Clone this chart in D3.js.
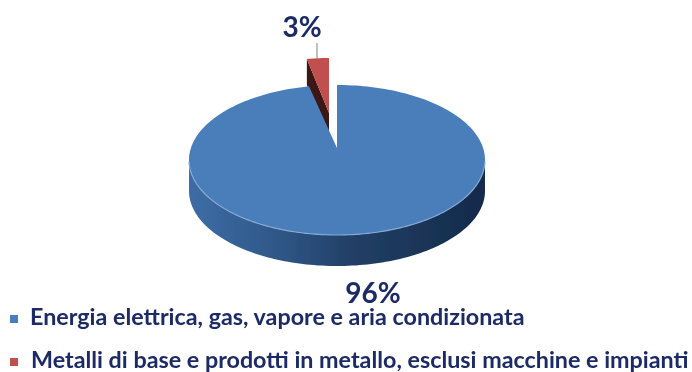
<!DOCTYPE html>
<html><head><meta charset="utf-8">
<script src="https://cdn.jsdelivr.net/npm/d3@7"></script>
<style>html,body{margin:0;padding:0;background:#fff}svg{display:block}</style>
</head><body><svg id="c" width="692" height="372"></svg>
<script>
const categories = ["Energia elettrica, gas, vapore e aria condizionata","Metalli di base e prodotti in metallo, esclusi macchine e impianti"];
const values = [96, 3];
const labels = ["96%", "3%"];
const colors = ["#4a7ebb", "#c0504d"];

const svg = d3.select("#c");
const defs = svg.append("defs");
defs.append("filter").attr("id","soft").append("feGaussianBlur").attr("stdDeviation",0.45);
const wall = defs.append("linearGradient").attr("id","wall");
[[0,"#3d6da6"],[0.3,"#2f5787"],[0.55,"#223f66"],[0.8,"#1a3456"],[1,"#15294a"]].forEach(([o,c])=>wall.append("stop").attr("offset",o).attr("stop-color",c));

const g = svg.append("g").attr("filter","url(#soft)");
const slices = d3.pie().sort(null).startAngle(0).endAngle(2*Math.PI)(values);
const pt = (cx,cy,rx,ry,a)=>[cx+rx*Math.sin(a), cy-ry*Math.cos(a)];
const sample = (a0,a1,n=120)=>d3.range(n+1).map(i=>a0+(a1-a0)*i/n);
const line = d3.line();

// Blue slice geometry
const B = {cx:337, cy:160, rx:148, ry:75, ax:337, ay:148, depth:31};
// Red slice geometry
const R = {cx:329, cy:113, rx:117, ry:55, depth:26};

// Red slice: cut wall then top
const [ra0, ra1] = [slices[1].startAngle, slices[1].endAngle];
const rOuter = pt(R.cx,R.cy,R.rx,R.ry,ra0);
g.append("path").attr("fill","#3c1512").attr("d", line([
  rOuter,[R.cx,R.cy],[R.cx,R.cy+R.depth],[rOuter[0],rOuter[1]+R.depth]
])+"Z");
g.append("path").attr("fill",colors[1]).attr("d", line([
  [R.cx,R.cy],...sample(ra0,ra1,12).map(a=>pt(R.cx,R.cy,R.rx,R.ry,a))
])+"Z");
// Leader line
g.append("line").attr("stroke","#a6a6a6").attr("stroke-width",1.4)
  .attr("x1",317).attr("x2",317).attr("y1",43).attr("y2",58);

// Blue wall
const front = sample(Math.PI/2+0.02, 3*Math.PI/2-0.02).map(a=>pt(B.cx,B.cy,B.rx,B.ry,a));
g.append("path").attr("fill","url(#wall)").attr("d", line([
  ...front, ...front.slice().reverse().map(p=>[p[0],p[1]+B.depth])
])+"Z");
// Blue top
g.append("path").attr("fill",colors[0]).attr("d", line([
  [B.ax,B.ay],...sample(slices[0].startAngle,slices[0].endAngle,240).map(a=>pt(B.cx,B.cy,B.rx,B.ry,a))
])+"Z");
// Rim highlight
g.append("path").attr("fill","none").attr("stroke","#86a8d4").attr("stroke-width",1.2).attr("d", line(front));

// Labels
g.append("text").attr("x",302).attr("y",37).attr("text-anchor","middle")
  .attr("font-family","Lato").attr("font-weight",700).attr("font-size",28).attr("fill","#1b2a66").text(labels[1]);
g.append("text").attr("x",373).attr("y",303).attr("text-anchor","middle")
  .attr("font-family","Lato").attr("font-weight",700).attr("font-size",28).attr("fill","#1b2a66").text(labels[0]);

// Legend
const ly = d3.scalePoint().domain(categories).range([317,360]);
const leg = g.selectAll("g.l").data(categories).join("g").attr("class","l")
  .attr("transform",d=>`translate(0,${ly(d)})`);
leg.append("rect").attr("x",10).attr("y",-2).attr("width",8).attr("height",8)
  .attr("fill",(d,i)=>colors[i]);
leg.append("text").attr("x",(d,i)=>i?31:30).attr("y",8).attr("font-family","Lato").attr("font-weight",700)
  .attr("font-size",23.3).attr("fill","#1b2a66").text(d=>d);
</script></body></html>
